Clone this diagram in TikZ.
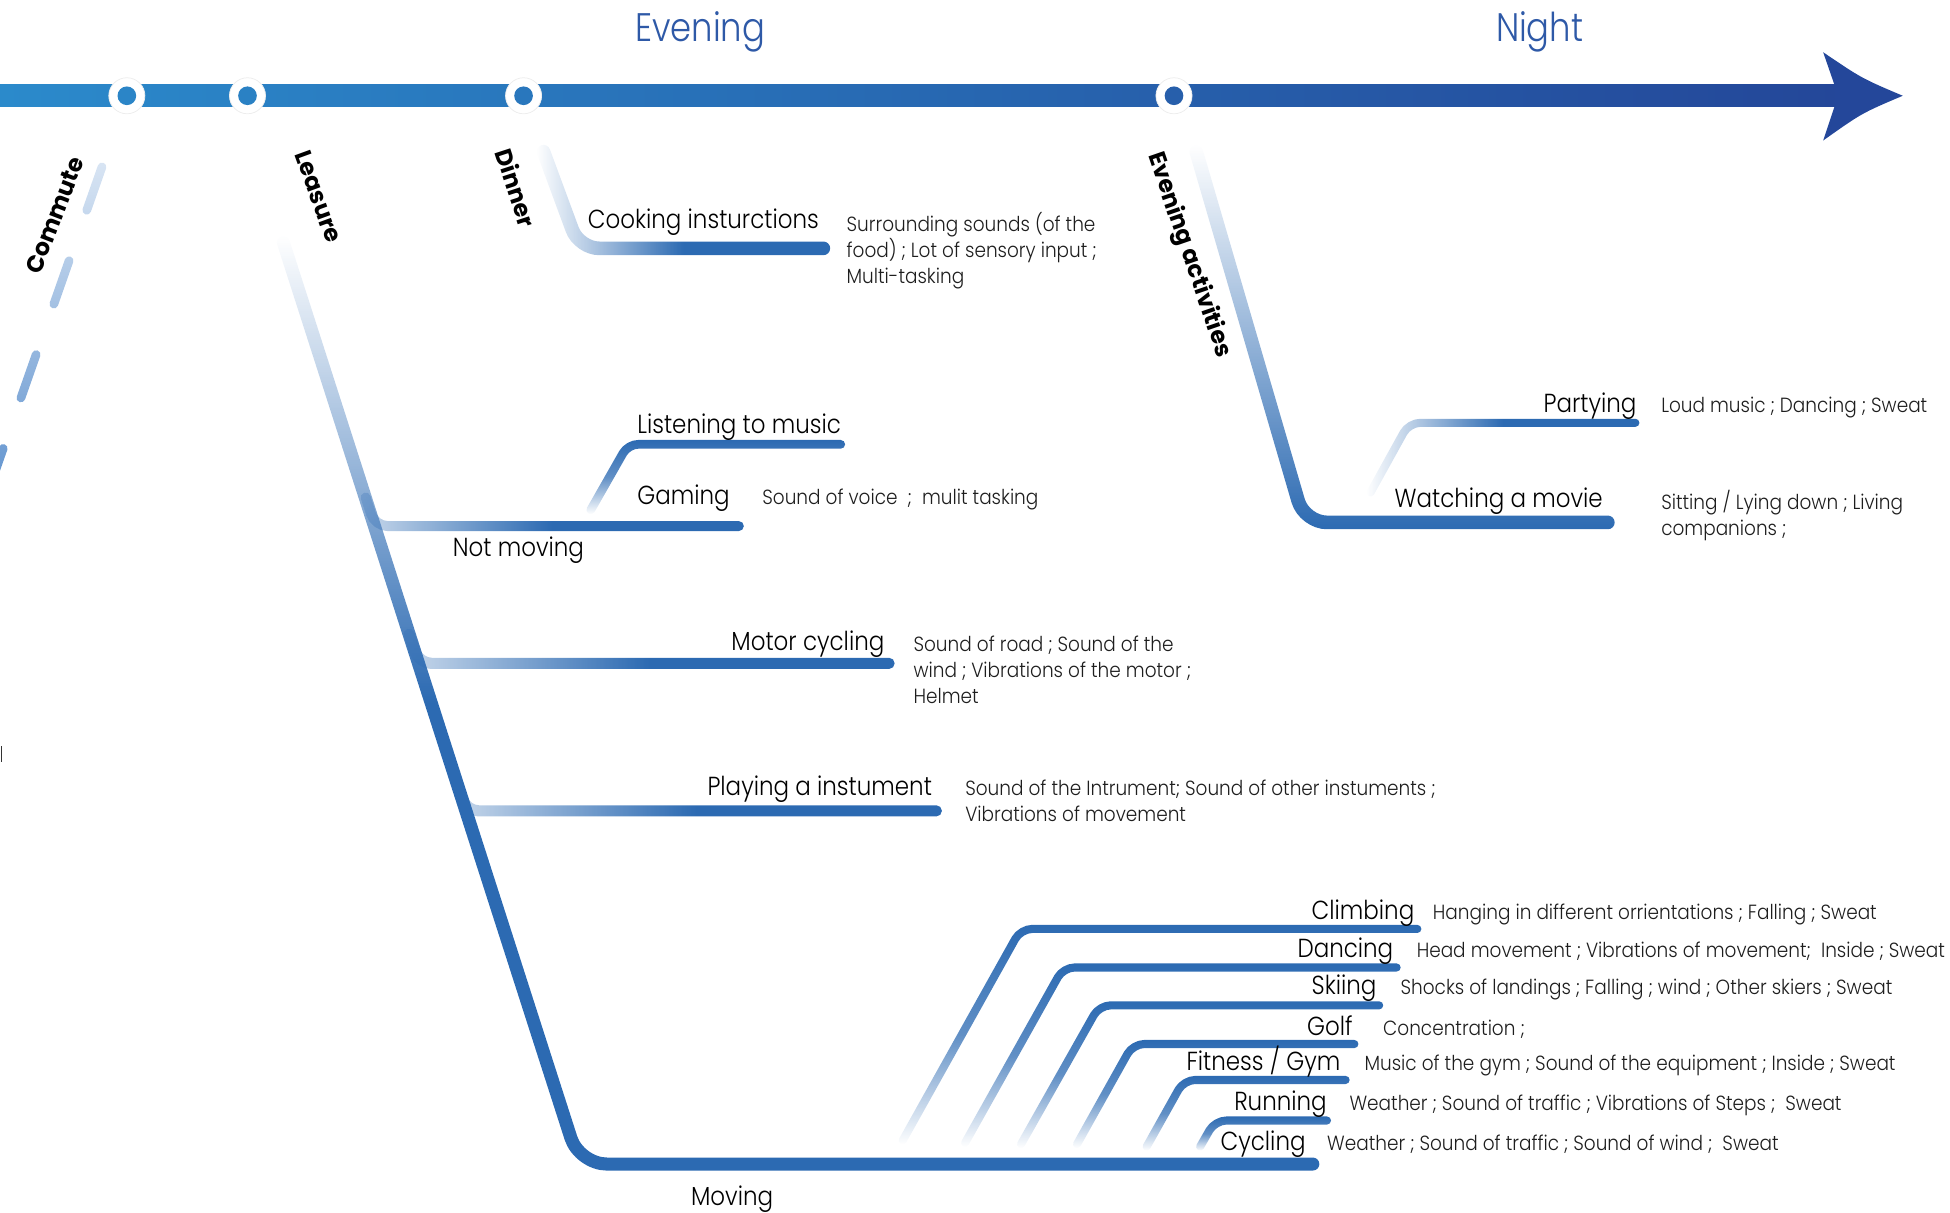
\documentclass[tikz,border=0pt]{standalone}
\usepackage{fontspec}
\usetikzlibrary{fadings}
\newfontfamily\lightfont{Poppins Light}[FakeStretch=0.88]
\newfontfamily\descfont{Poppins Light}[FakeStretch=0.9]
\newfontfamily\titlefont{Poppins Light}[FakeStretch=0.85]
\newfontfamily\boldfont{Poppins Bold}

\definecolor{tlstart}{RGB}{43,138,203}
\definecolor{tlend}{RGB}{36,71,153}
\definecolor{arrowblue}{RGB}{36,71,154}
\definecolor{branch}{RGB}{44,106,178}
\definecolor{dashblue}{RGB}{79,135,201}
\definecolor{titleblue}{RGB}{46,89,167}
\definecolor{desctext}{RGB}{30,30,30}

% fadings for the branch strokes
\tikzfading[name=fadeup, bottom color=transparent!100, top color=transparent!0, middle color=transparent!25]
\tikzfading[name=fadedown, top color=transparent!100, bottom color=transparent!0]
\tikzfading[name=fadedownfast, top color=transparent!100, bottom color=transparent!0, middle color=transparent!0]
\tikzfading[name=faderight, left color=transparent!75, right color=transparent!0, middle color=transparent!0]
\tikzfading[name=faderightfull, left color=transparent!100, right color=transparent!0, middle color=transparent!0]
\tikzfading[name=fadedash, top color=transparent!78, bottom color=transparent!0]

\begin{document}
\begin{tikzpicture}[x=1pt,y=-1pt,
  actlabel/.style={font=\lightfont\fontsize{21}{25}\selectfont, inner sep=0pt, text=black},
  desc/.style={font=\descfont\fontsize{16.5}{21}\selectfont, inner sep=0pt, text=desctext, anchor=base west},
  period/.style={font=\titlefont\fontsize{32}{38}\selectfont, inner sep=0pt, text=titleblue, anchor=base},
  phaselabel/.style={font=\boldfont\fontsize{19}{23}\selectfont, inner sep=0pt, text=black},
  branchline/.style={draw=branch, line cap=round, line join=round},
  ring/.style={circle, fill=white, draw=black!7, line width=0.6pt, minimum size=29pt, inner sep=0pt},
  dot/.style={circle, minimum size=15pt, inner sep=0pt},
]
\useasboundingbox (0,0) rectangle (1568,975);

% ---- time line ----
\shade[left color=tlstart, right color=tlend] (0,68) rectangle (1478,86);
\fill[arrowblue] (1475,68) -- (1466,42) .. controls (1497,63) .. (1530,77)
  .. controls (1497,91) .. (1466,113) -- (1475,86) -- cycle;

\node[ring] (c1) at (102,77) {};
\node[ring] (c2) at (199,77) {};
\node[ring] (c3) at (421,77) {};
\node[ring] (c4) at (944,77) {};
\node[dot, fill=tlend!7!tlstart] (d1) at (c1) {};
\node[dot, fill=tlend!14!tlstart] (d2) at (c2) {};
\node[dot, fill=tlend!29!tlstart] (d3) at (c3) {};
\node[dot, fill=tlend!64!tlstart] (d4) at (c4) {};

\node[period] (evening) at (563,33) {Evening};
\node[period] (night) at (1238,33) {Night};

% ---- phase labels ----
\node[phaselabel, rotate=69] (commute) at (44,173) {Commute};
\node[phaselabel, rotate=-70] (leasure) at (256,158) {Leasure};
\node[phaselabel, rotate=-72] (dinner) at (415,151) {Dinner};
\node[phaselabel, rotate=-71] (evact) at (956,205) {Evening activities};

% ---- commute ----
\coordinate (cmA) at (82,134);
\coordinate (cmB) at (-22.5,432);
\draw[dashblue, line width=7pt, line cap=round, dash pattern=on 37pt off 43pt, path fading=fadedash] (cmA) -- (cmB);
\coordinate (tickA) at (1.3,600);
\coordinate (tickB) at (1.3,613);
\draw[black!80, line width=1.1pt] (tickA) -- (tickB);

% ---- leasure ----
\coordinate (lsTop) at (228,195);
\coordinate (lsCorner) at (466,936);
\coordinate (mvEnd) at (1056,936);
\draw[branchline, line width=10.5pt, rounded corners=22pt, path fading=fadedownfast] (lsTop) -- (lsCorner) -- (mvEnd);

\coordinate (nmStart) at (294,400);
\coordinate (nmCorner) at (301.5,423);
\coordinate (nmEnd) at (594,423);
\draw[branchline, line width=8pt, rounded corners=10pt, path fading=faderight] (nmStart) -- (nmCorner) -- (nmEnd);

\coordinate (lmStart) at (475,410);
\coordinate (lmCorner) at (505,357.3);
\coordinate (lmEnd) at (676,357.3);
\draw[branchline, line width=7pt, rounded corners=8pt, path fading=fadeup] (lmStart) -- (lmCorner) -- (lmEnd);

\coordinate (mcStart) at (329,510);
\coordinate (mcCorner) at (336.8,533.4);
\coordinate (mcEnd) at (715,533.4);
\draw[branchline, line width=9pt, rounded corners=10pt, path fading=faderight] (mcStart) -- (mcCorner) -- (mcEnd);

\coordinate (piStart) at (367,628);
\coordinate (piCorner) at (374.8,652);
\coordinate (piEnd) at (753,652);
\draw[branchline, line width=9pt, rounded corners=10pt, path fading=faderight] (piStart) -- (piCorner) -- (piEnd);

% moving sub-branches
\coordinate (clS) at (726,917);  \coordinate (clC) at (821,747);   \coordinate (clE) at (1140,747);
\coordinate (daS) at (776,919);  \coordinate (daC) at (855,778);   \coordinate (daE) at (1123,778);
\coordinate (skS) at (821,920);  \coordinate (skC) at (884,808.4); \coordinate (skE) at (1109,808.4);
\coordinate (goS) at (866,920);  \coordinate (goC) at (911,839.5); \coordinate (goE) at (1089,839.5);
\coordinate (fiS) at (922,922);  \coordinate (fiC) at (952,868.4); \coordinate (fiE) at (1082,868.4);
\coordinate (ruS) at (965,922);  \coordinate (ruC) at (977,901);   \coordinate (ruE) at (1067,901);
\foreach \b in {cl,da,sk,go,fi,ru} {
  \draw[branchline, line width=6.5pt, rounded corners=9pt, path fading=fadeup] (\b S) -- (\b C) -- (\b E);
}

% ---- dinner ----
\coordinate (dnTop) at (437,122);
\coordinate (dnCorner) at (465.7,199.7);
\coordinate (dnEnd) at (662,199.7);
\draw[branchline, line width=11pt, rounded corners=16pt, path fading=faderightfull] (dnTop) -- (dnCorner) -- (dnEnd);

% ---- evening activities ----
\coordinate (eaTop) at (962,122);
\coordinate (eaCorner) at (1049,420);
\coordinate (eaEnd) at (1293,420);
\draw[branchline, line width=11pt, rounded corners=18pt, path fading=fadedown] (eaTop) -- (eaCorner) -- (eaEnd);

\coordinate (paStart) at (1102,396);
\coordinate (paCorner) at (1133,340);
\coordinate (paEnd) at (1315,340);
\draw[branchline, line width=6.5pt, rounded corners=9pt, path fading=faderightfull] (paStart) -- (paCorner) -- (paEnd);

% ---- activity labels and descriptions ----
\node[actlabel, anchor=base west] (cook) at (472.5,183.6) {Cooking insturctions};
\node[desc] (cookd) at (680.6,186.3) {\vtop{\hbox{Surrounding sounds (of the}\hbox{food) ; Lot of sensory input ;}\hbox{Multi-tasking}}};

\node[actlabel, anchor=base west] (music) at (512.3,348.5) {Listening to music};
\node[actlabel, anchor=base west] (gaming) at (512.3,406) {Gaming};
\node[desc] (gamingd) at (612.8,406) {Sound of voice\ \ ;\ \ mulit tasking};
\node[actlabel, anchor=base west] (notmoving) at (363.9,447.6) {Not moving};

\node[actlabel, anchor=base east] (motor) at (711.3,522.7) {Motor cycling};
\node[desc] (motord) at (734.4,524) {\vtop{\hbox{Sound of road ; Sound of the}\hbox{wind ; Vibrations of the motor ;}\hbox{Helmet}}};

\node[actlabel, anchor=base east] (instr) at (749.6,640) {Playing a instument};
\node[desc] (instrd) at (776,639.3) {\vtop{\hbox{Sound of the Intrument; Sound of other instuments ;}\hbox{Vibrations of movement}}};

\node[actlabel, anchor=base west] (moving) at (555.5,969) {Moving};

\node[actlabel, anchor=base east] (climb) at (1137.4,739.2) {Climbing};
\node[desc] (climbd) at (1152,739.2) {Hanging in different orrientations ; Falling ; Sweat};
\node[actlabel, anchor=base east] (dance) at (1120.5,769.8) {Dancing};
\node[desc] (danced) at (1139,769.8) {Head movement ; Vibrations of movement;\ \ Inside ; Sweat};
\node[actlabel, anchor=base east] (ski) at (1107,800) {Skiing};
\node[desc] (skid) at (1126,800) {Shocks of landings ; Falling ; wind ; Other skiers ; Sweat};
\node[actlabel, anchor=base east] (golf) at (1087.8,832.3) {Golf};
\node[desc] (golfd) at (1112,832.3) {Concentration ;};
\node[actlabel, anchor=base east] (gym) at (1078,861) {Fitness / Gym};
\node[desc] (gymd) at (1097,861) {Music of the gym ; Sound of the equipment ; Inside ; Sweat};
\node[actlabel, anchor=base east] (run) at (1067,892.6) {Running};
\node[desc] (rund) at (1085,892.6) {Weather ; Sound of traffic ; Vibrations of Steps ;\ \ Sweat};
\node[actlabel, anchor=base east] (cycle) at (1050,925.3) {Cycling};
\node[desc] (cycled) at (1067,925.3) {Weather ; Sound of traffic ; Sound of wind ;\ \ Sweat};

\node[actlabel, anchor=base east] (party) at (1316,331.8) {Partying};
\node[desc] (partyd) at (1335.6,332) {Loud music ; Dancing ; Sweat};
\node[actlabel, anchor=base east] (movie) at (1289,408) {Watching a movie};
\node[desc] (movied) at (1335.6,409.5) {\vtop{\hbox{Sitting / Lying down ; Living}\hbox{companions ;}}};
\end{tikzpicture}
\end{document}
